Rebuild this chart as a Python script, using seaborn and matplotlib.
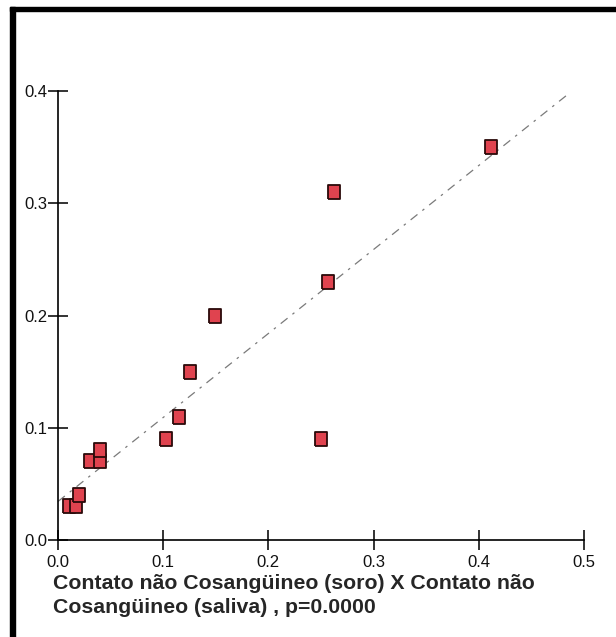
import numpy as np
import pandas as pd
import matplotlib as mpl
mpl.use("Agg")
import matplotlib.pyplot as plt
import seaborn as sns
from matplotlib.patches import Rectangle

sns.set_style("white")
mpl.rcParams["font.family"] = ["Liberation Sans", "DejaVu Sans"]

# serum vs saliva, non-consanguineous contacts
soro = [0.010, 0.017, 0.020, 0.030, 0.040, 0.040, 0.103, 0.115, 0.125, 0.149,
        0.250, 0.257, 0.262, 0.412]
saliva = [0.03, 0.03, 0.04, 0.07, 0.07, 0.08, 0.09, 0.11, 0.15, 0.20,
          0.09, 0.23, 0.31, 0.35]
xticks = [0.0, 0.1, 0.2, 0.3, 0.4, 0.5]
yticks = [0.0, 0.1, 0.2, 0.3, 0.4]
xlabel = "Contato não Cosangüineo (soro) X Contato não\nCosangüineo (saliva) , p=0.0000"

df = pd.DataFrame({"soro": soro, "saliva": saliva})

fig = plt.figure(figsize=(6.16, 6.37), dpi=100)
ax = fig.add_axes([58 / 616, 97 / 637, 526 / 616, 449 / 637])

# fitted line across the plotting range
slope, intercept = np.polyfit(df["soro"], df["saliva"], 1)
xs = np.array([0.0, 0.485])
ax.plot(xs, intercept + slope * xs, color="#7a7a7a", lw=0.9,
        linestyle=(0, (7, 5, 2, 5)), clip_on=False, zorder=1)

rect = [(-0.85, -1), (0.85, -1), (0.85, 1), (-0.85, 1), (-0.85, -1)]
sns.scatterplot(data=df, x="soro", y="saliva", ax=ax, marker=rect, s=115,
                color="#e0434f", edgecolor="#2a0a0a", linewidth=1.3,
                zorder=3, clip_on=False)

ax.set_xlim(0, 0.5)
ax.set_ylim(0, 0.4)
ax.set_xticks(xticks)
ax.set_yticks(yticks)
ax.set_xticklabels([f"{t:.1f}" for t in xticks])
ax.set_yticklabels([f"{t:.1f}" for t in yticks])
ax.tick_params(axis="x", bottom=True, direction="inout", length=15, width=1.2,
               labelsize=12, pad=3, colors="#111111")
ax.tick_params(axis="y", left=True, direction="inout", length=15, width=1.2,
               labelsize=12, pad=0, colors="#111111")
for s in ["top", "right"]:
    ax.spines[s].set_visible(False)
for s in ["left", "bottom"]:
    ax.spines[s].set_color("black")
    ax.spines[s].set_linewidth(1.2)
ax.set_xlabel("")
ax.set_ylabel("")

fig.text(53 / 616, 1 - 574 / 637, xlabel, ha="left", va="top",
         fontsize=15.3, fontweight="bold", linespacing=1.32)

# outer frame (top and left bars)
fig.patches.append(Rectangle((10 / 616, 1 - 11 / 637), 1, 4 / 637,
                             transform=fig.transFigure, color="black"))
fig.patches.append(Rectangle((10 / 616, 0), 5 / 616, 1 - 7 / 637,
                             transform=fig.transFigure, color="black"))

fig.savefig("out.png", dpi=100)
